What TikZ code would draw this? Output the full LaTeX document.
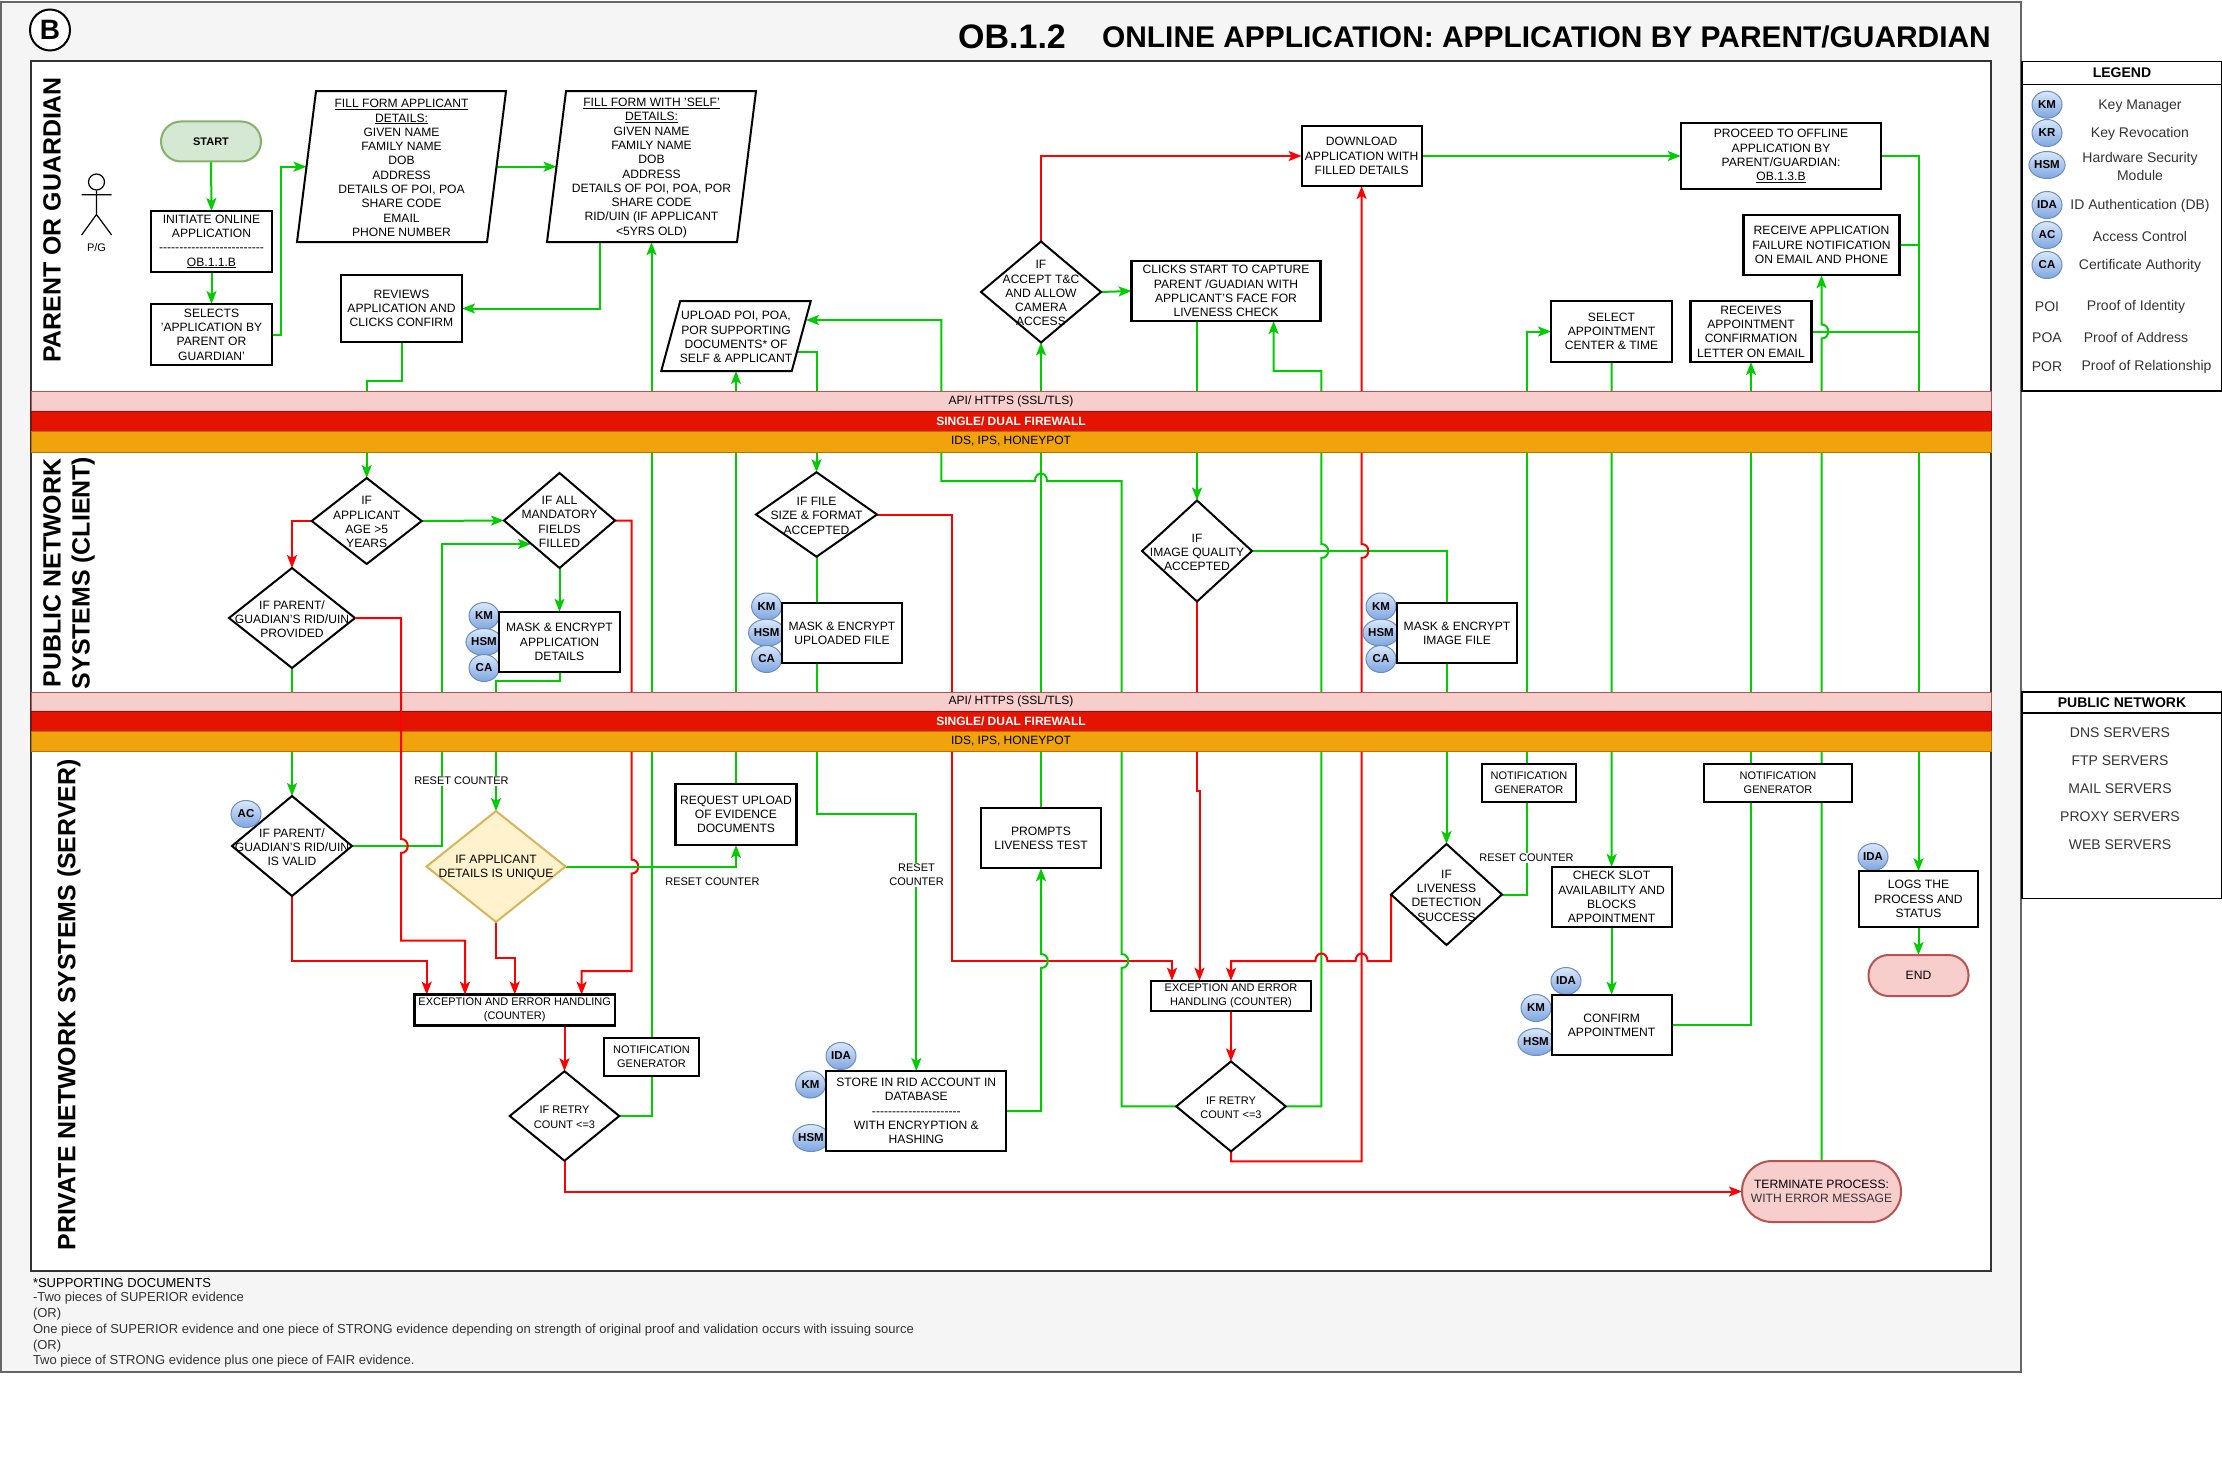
\documentclass[tikz,border=0pt]{standalone}
\usepackage{fontspec}
\setmainfont{Liberation Sans}
\usetikzlibrary{arrows.meta,shapes.geometric}
\pgfdeclarelayer{panel}\pgfdeclarelayer{conn}\pgfdeclarelayer{over}
\pgfsetlayers{panel,conn,main,over}
\definecolor{gcol}{HTML}{00CC00}
\definecolor{rcol}{HTML}{FF0000}
\definecolor{pinkf}{HTML}{F8CECC}\definecolor{pinkd}{HTML}{B85450}
\definecolor{redf}{HTML}{E51400}\definecolor{redd}{HTML}{B20000}
\definecolor{orf}{HTML}{F0A30A}\definecolor{ord}{HTML}{BD7000}
\definecolor{grnf}{HTML}{D5E8D4}\definecolor{grnd}{HTML}{82B366}
\definecolor{yelf}{HTML}{FFF2CC}\definecolor{yeld}{HTML}{D6B656}
\definecolor{blut}{HTML}{DAE8FC}\definecolor{blub}{HTML}{7EA6E0}\definecolor{blud}{HTML}{6C8EBF}
\definecolor{panelf}{HTML}{F5F5F5}\definecolor{paneld}{HTML}{666666}
\definecolor{txtg}{HTML}{333333}
\newcommand\sz[1]{\fontsize{#1}{14.3}\selectfont}
\tikzset{
 tb/.style={font=\sz{12.1},align=center,inner sep=0pt,outer sep=0pt},
 ts/.style={font=\sz{11},align=center,inner sep=0pt,outer sep=0pt},
 tl/.style={font=\sz{14},align=center,inner sep=0pt,outer sep=0pt,text=txtg},
 wh/.style 2 args={minimum width=#1,minimum height=#2},
 boxn/.style={tb,draw=black,line width=2.2pt,fill=white},
 boxs/.style={ts,draw=black,line width=2.2pt,fill=white},
 dian/.style={diamond,draw=black,line width=2pt,fill=white,inner sep=0pt,outer sep=0pt},
 hid/.style={inner sep=0pt,outer sep=0pt},
 term/.style={tb,rounded corners=20pt,line width=2pt},
 svc/.style={ellipse,draw=blud,line width=1pt,top color=blut,bottom color=blub,inner sep=0pt,outer sep=0pt,minimum width=30,minimum height=27,font=\sz{11.5}\bfseries},
 band/.style={tb,minimum width=1960,line width=1pt,font=\sz{12}},
 lbl/.style={ts,fill=white,inner sep=1pt},
 gl/.style={draw=gcol,line width=2pt},
 rl/.style={draw=rcol,line width=2pt},
 ga/.style={gl,-{Stealth[length=13pt,width=10pt,inset=3pt]}},
 ra/.style={rl,-{Stealth[length=13pt,width=10pt,inset=3pt]}},
 head/.style={font=\fontsize{24.9}{29}\selectfont\bfseries,rotate=90,align=center,inner sep=0pt,outer sep=0pt},
 legb/.style={draw=black,line width=1.4pt,fill=white,inner sep=0pt,outer sep=0pt},
 legh/.style={legb,font=\fontsize{14}{16}\selectfont\bfseries},
 foot/.style={font=\sz{13},anchor=west,inner sep=0pt,outer sep=0pt,text=txtg},
}
\newcommand\mydia[7][dian]{\node[#1,minimum width=#5,minimum height=#6] (#2) at (#3,#4) {};
 \node[tb,yshift=-1.2pt] (#2t) at (#2.center) {#7};}
\newcommand\mydias[6]{\node[dian,minimum width=#5,minimum height=#6] (#1) at (#3,#4) {};
 \node[ts,yshift=-1.2pt] (#1t) at (#1.center) {#2};}
\newcommand\mypara[7]{\node[hid,minimum width=#4,minimum height=#5] (#1) at (#2,#3) {};
 \draw[draw=black,line width=2pt,fill=white] ([xshift=#6]#1.north west) -- ([xshift=#6]#1.north east) -- ([xshift=-#6]#1.south east) -- ([xshift=-#6]#1.south west) -- cycle;
 \node[tb,yshift=-1.2pt] (#1t) at (#1.center) {#7};}
\newcommand\vjd[2]{-- (#1,#2-7) .. controls (#1+9,#2-7) and (#1+9,#2+7) .. (#1,#2+7)}
\newcommand\vju[2]{-- (#1,#2+7) .. controls (#1+9,#2+7) and (#1+9,#2-7) .. (#1,#2-7)}
\newcommand\hjl[2]{-- (#1+6,#2) .. controls (#1+6,#2-10) and (#1-6,#2-10) .. (#1-6,#2)}
\newcommand\dd{-{}-{}-{}-{}-{}-{}-{}-{}-{}-{}-{}-{}-{}-{}-{}-{}-{}-{}-{}-{}-{}-{}-{}-{}-{}-}
\newcommand\ds{-{}-{}-{}-{}-{}-{}-{}-{}-{}-{}-{}-{}-{}-{}-{}-{}-{}-{}-{}-{}-{}-}
\begin{document}
\begin{tikzpicture}[x=1pt,y=-1pt]
\useasboundingbox (0,0) rectangle (2222,1469);
\begin{pgfonlayer}{panel}
\fill[white] (0,0) rectangle (2222,1469);
\draw[fill=panelf,draw=paneld,line width=2pt] (1,2) rectangle (2021,1372);
\draw[fill=white,draw=txtg,line width=2pt] (31,61) rectangle (1991,1271);
\end{pgfonlayer}

% title
\node[ellipse,draw=black,line width=2pt,fill=white,minimum width=40,minimum height=41,inner sep=0pt,font=\fontsize{28}{30}\selectfont\bfseries] (badge) at (50,30) {B};
\node[font=\fontsize{34}{36}\selectfont\bfseries,inner sep=0pt] (obn) at (1012,37) {OB.1.2};
\node[font=\fontsize{29.9}{34}\selectfont\bfseries,inner sep=0pt,anchor=east] (titl) at (1991,37) {ONLINE APPLICATION: APPLICATION BY PARENT/GUARDIAN};

% lanes
\node[head] (lane1) at (52,220) {PARENT OR GUARDIAN};
\node[head] (lane2) at (69,573) {PUBLIC NETWORK\\SYSTEMS (CLIENT)};
\node[head] (lane3) at (69,1005) {PRIVATE NETWORK SYSTEMS (SERVER)};

% bands
\node[band,draw=pinkd,fill=pinkf,minimum height=20] (api1) at (1011,401) {API/ HTTPS (SSL/TLS)};
\node[band,draw=redd,fill=redf,minimum height=20,text=white,font=\sz{12}\bfseries] (fw1) at (1011,421) {SINGLE/ DUAL FIREWALL};
\node[band,draw=ord,fill=orf,minimum height=21] (ids1) at (1011,441.5) {IDS, IPS, HONEYPOT};
\node[band,draw=pinkd,fill=pinkf,minimum height=19] (api2) at (1011,701.5) {API/ HTTPS (SSL/TLS)};
\node[band,draw=redd,fill=redf,minimum height=20,text=white,font=\sz{12}\bfseries] (fw2) at (1011,721) {SINGLE/ DUAL FIREWALL};
\node[band,draw=ord,fill=orf,minimum height=20] (ids2) at (1011,741) {IDS, IPS, HONEYPOT};

% actor
\node[circle,draw=black,line width=1.2pt,fill=white,minimum size=16,inner sep=0pt] (acth) at (96.5,182) {};
\coordinate (actn) at (96.5,214.5);
\coordinate (actl) at (81.6,235);\coordinate (actr) at (111.6,235);
\coordinate (arml) at (81.6,194.7);\coordinate (armr) at (111.6,194.7);
\draw[line width=1.2pt] (acth.south) -- (actn) (arml) -- (armr) (actl) -- (actn) -- (actr);
\node[ts] (actlab) at (96.5,248) {P/G};

% service badges
\node[svc] (km1) at (484,616) {KM};\node[svc] (hsm1) at (484,642) {HSM};\node[svc] (ca1) at (484,668) {CA};
\node[svc] (km2) at (766.6,606.5) {KM};\node[svc] (hsm2) at (766.6,632.7) {HSM};\node[svc] (ca2) at (766.6,659) {CA};
\node[svc] (km3) at (1381,606.5) {KM};\node[svc] (hsm3) at (1381,632.7) {HSM};\node[svc] (ca3) at (1381,659) {CA};
\node[svc] (ida1) at (841,1056) {IDA};\node[svc] (km4) at (810.6,1084.5) {KM};\node[svc] (hsm4) at (811,1138) {HSM};
\node[svc] (ida2) at (1873,857) {IDA};
\node[svc] (ida3) at (1566,981) {IDA};\node[svc] (km5) at (1536,1008) {KM};\node[svc] (hsm5) at (1536,1042) {HSM};

% boxes: parent lane
\node[term,draw=grnd,fill=grnf,wh={100}{40},font=\sz{11}\bfseries] (start) at (211,141.5) {START};
\node[boxn,wh={121}{61}] (init) at (211.5,241.5) {INITIATE ONLINE\\APPLICATION\\[-0.5pt]\dd\\[0.5pt]\underline{OB.1.1.B}};
\node[boxn,wh={121}{61}] (selects) at (211.5,334.5) {SELECTS\\'APPLICATION BY\\PARENT OR\\GUARDIAN'};
\mypara{form1}{401.5}{166.7}{190}{151}{9.5}{\underline{FILL FORM APPLICANT}\\\underline{DETAILS:}\\GIVEN NAME\\FAMILY NAME\\DOB\\ADDRESS\\DETAILS OF POI, POA\\SHARE CODE\\EMAIL\\PHONE NUMBER}
\mypara{form2}{651.5}{166.7}{190}{151}{9.5}{\underline{FILL FORM WITH 'SELF'}\\\underline{DETAILS:}\\GIVEN NAME\\FAMILY NAME\\DOB\\ADDRESS\\DETAILS OF POI, POA, POR\\SHARE CODE\\RID/UIN (IF APPLICANT\\<5YRS OLD)}
\node[boxn,wh={121}{67}] (reviews) at (401.5,308.5) {REVIEWS\\APPLICATION AND\\CLICKS CONFIRM};
\mypara{upload}{736}{336}{130.5}{70}{9.5}{UPLOAD POI, POA,\\POR SUPPORTING\\DOCUMENTS* OF\\SELF \& APPLICANT}
\mydia{D5}{1041}{292}{120}{101}{IF\\ACCEPT T\&C\\AND ALLOW\\CAMERA\\ACCESS}
\node[boxn,wh={189}{60}] (clicks) at (1226,291) {CLICKS START TO CAPTURE\\PARENT /GUADIAN WITH\\APPLICANT'S FACE FOR\\LIVENESS CHECK};
\node[boxn,wh={120}{60}] (DL) at (1361.6,156) {DOWNLOAD\\APPLICATION WITH\\FILLED DETAILS};
\node[boxn,wh={200.5}{66}] (proceed) at (1781,156) {PROCEED TO OFFLINE\\APPLICATION BY\\PARENT/GUARDIAN:\\\underline{OB.1.3.B}};
\node[boxn,wh={156}{60.5}] (failnote) at (1821.5,245) {RECEIVE APPLICATION\\FAILURE NOTIFICATION\\ON EMAIL AND PHONE};
\node[boxn,wh={121}{61}] (select) at (1611.5,331.5) {SELECT\\APPOINTMENT\\CENTER \& TIME};
\node[boxn,wh={121}{61}] (receives) at (1751,331.5) {RECEIVES\\APPOINTMENT\\CONFIRMATION\\LETTER ON EMAIL};

% public lane
\mydia{D1}{366.7}{521}{110}{86}{IF\\APPLICANT\\AGE >5\\YEARS}
\mydia{D2}{559.5}{520.5}{111}{95}{IF ALL\\MANDATORY\\FIELDS\\FILLED}
\mydia{D3}{292}{618}{126}{100}{IF PARENT/\\GUADIAN'S RID/UIN\\PROVIDED}
\mydia{D4}{816.5}{514.5}{121}{84.5}{IF FILE\\SIZE \& FORMAT\\ACCEPTED}
\mydia{D6}{1197}{551}{110}{101}{IF\\IMAGE QUALITY\\ACCEPTED}
\node[boxn,wh={121}{60.5}] (mask1) at (559.5,642) {MASK \& ENCRYPT\\APPLICATION\\DETAILS};
\node[boxn,wh={120}{60}] (mask2) at (842,633) {MASK \& ENCRYPT\\UPLOADED FILE};
\node[boxn,wh={120}{60}] (mask3) at (1457,633) {MASK \& ENCRYPT\\IMAGE FILE};

% private lane
\mydia{D7}{292}{846}{120}{100}{IF PARENT/\\GUADIAN'S RID/UIN\\IS VALID}
\node[svc] (ac1) at (246,814) {AC};
\mydia[dian,draw=yeld,fill=yelf]{D8}{496}{866.5}{139}{111}{IF APPLICANT\\DETAILS IS UNIQUE}
\node[boxn,wh={121}{61}] (request) at (736,814.5) {REQUEST UPLOAD\\OF EVIDENCE\\DOCUMENTS};
\node[boxs,wh={200.5}{31}] (exc1) at (514.7,1010) {EXCEPTION AND ERROR HANDLING\\(COUNTER)};
\node[boxs,wh={94.5}{37.5}] (notif1) at (651.5,1057) {NOTIFICATION\\GENERATOR};
\mydias{D9}{IF RETRY\\COUNT <=3}{564.5}{1116}{109.5}{89.5}
\node[boxn,wh={180}{80}] (store) at (916.3,1111) {STORE IN RID ACCOUNT IN\\DATABASE\\\ds\\WITH ENCRYPTION \&\\HASHING};
\node[boxn,wh={120}{60.5}] (prompts) at (1041,838) {PROMPTS\\LIVENESS TEST};
\node[boxs,wh={94.5}{38}] (notif2) at (1529,783) {NOTIFICATION\\GENERATOR};
\node[boxs,wh={148}{38}] (notif3) at (1778,783) {NOTIFICATION\\GENERATOR};
\mydia{D10}{1446.5}{894.5}{111}{101}{IF\\LIVENESS\\DETECTION\\SUCCESS}
\node[boxn,wh={120}{60}] (check) at (1611.6,897) {CHECK SLOT\\AVAILABILITY AND\\BLOCKS\\APPOINTMENT};
\node[boxn,wh={119}{55.5}] (logs) at (1918.5,899) {LOGS THE\\PROCESS AND\\STATUS};
\node[term,draw=pinkd,fill=pinkf,wh={100}{41}] (endn) at (1918.5,975.5) {END};
\node[boxs,wh={159.5}{30.5}] (exc2) at (1231,996) {EXCEPTION AND ERROR\\HANDLING (COUNTER)};
\mydias{D11}{IF RETRY\\COUNT <=3}{1231}{1106.4}{109.5}{90}
\node[boxn,wh={120}{60.5}] (confirm) at (1611.6,1025) {CONFIRM\\APPOINTMENT};
\node[term,rounded corners=30pt,draw=pinkd,fill=pinkf,wh={159}{61}] (terminate) at (1821.5,1191.5) {TERMINATE PROCESS:\\\textcolor{txtg}{WITH ERROR MESSAGE}};

% labels on lines
\node[lbl] (rc1) at (461.5,781) {RESET COUNTER};
\node[lbl] (rc2) at (712.4,882) {RESET COUNTER};
\node[lbl] (rc3) at (916.5,875) {RESET\\COUNTER};
\node[lbl] (rc4) at (1526.5,858) {RESET COUNTER};

% free connector ends
\coordinate (f2out) at (599.5,242);
\coordinate (upout) at (797,352);
\coordinate (upin) at (806,320);

\begin{pgfonlayer}{conn}
\draw[ga] (start.south) -- (init.north);
\draw[ga] (init.south) -- (selects.north);
\draw[ga] (selects.east) -- (281,334.5) |- (form1.west);
\draw[ga] (form1.east) -- (form2.west);
\draw[ga] (f2out) |- (reviews.east);
\draw[ga] (reviews.south) |- (366.7,381) -- (D1.north);
\draw[ga] (D1.east) -- (D2.west);
\draw[ra] (D1.west) -| (D3.north);
\draw[ga] (D2.south) -- (mask1.north);
\draw[ga] (mask1.south) |- (496,681) -- (D8.north);
\draw[ga] (D7.east) -| (441.5,544) -- (531,544);
\draw[ga] (D3.south) -- (D7.north);
\draw[ra] (D7.south) |- (426.7,961) -- (426.7,994.7);
\draw[ra] (D8.south) |- (514.7,958) -- (exc1.north);
\draw[ra] (D2.east) -- (631.5,520.5) \vjd{631.5}{866.6} -- (631.5,971) -- (581.6,971) -- (581.6,994.7);
\draw[ga] (D8.east) -| (request.south);
\draw[ra] (D9.north|-exc1.south) -- (D9.north);
\draw[ga] (D9.east) -| (form2.south);
\draw[ra] (D9.south) |- (terminate.west);
\draw[ga] (request.north) -- (upload.south);
\draw[ga] (upout) -| (D4.north);
\draw[ga] (D4.south) |- (916.3,813.5) -- (store.north);
\draw[ra] (D4.east) -- (951.5,514.5) -- (951.5,961) -- (1172,961) -- (1172,980.7);
\draw[ga] (store.east) -- (1041,1111) \vju{1041}{961} -- (prompts.south);
\draw[ga] (prompts.north) -- (D5.south);
\draw[ra] (D5.north) |- (DL.west);
\draw[ga] (D5.east) -- (clicks.west);
\draw[ga] (D11.west) -- (1121.5,1106.4) \vju{1121.5}{961} -- (1121.5,481) \hjl{1041}{481} -- (941.3,481) -- (941.3,320) -- (upin);
\draw[ga] (D11.east) -- (1321.4,1106.4) \vju{1321.4}{551} -- (1321.4,371) -- (1273.6,371) -- (1273.6,321);
\draw[ga] (D6.north|-clicks.south) -- (D6.north);
\draw[ra] (D6.south) -- (1197,791) -- (1199.5,791) -- (1199.5,980.7);
\draw[ga] (D6.east) -- (1446.5,551) -- (D10.north);
\draw[ga] (D10.east) -- (1526.5,894.5) -- (1526.5,331.5) -- (select.west);
\draw[ra] (D10.west) -- (1391,961) \hjl{1361.6}{961} \hjl{1321.4}{961} -- (1231,961) -- (exc2.north);
\draw[ra] (exc2.south) -- (D11.north);
\draw[ra] (D11.south) |- (1361.6,1161.4) \vju{1361.6}{551} -- (DL.south);
\draw[ga] (select.south) -- (check.north);
\draw[ga] (check.south) -- (confirm.north);
\draw[ga] (confirm.east) -| (receives.south);
\draw[gl] (receives.east) -- (1918.5,331.5);
\draw[gl] (failnote.east) -- (1918.5,245);
\draw[ga] (proceed.east) -| (logs.north);
\draw[ga] (DL.east) -- (proceed.west);
\draw[ga] (terminate.north) \vju{1821.5}{331.5} -- (failnote.south);
\draw[ga] (logs.south) -- (endn.north);
\end{pgfonlayer}
\begin{pgfonlayer}{over}
\draw[ra] (D3.east) -- (401,618) \vjd{401}{846} -- (401,940.7) -- (465,940.7) -- (465,994.7);
\end{pgfonlayer}

% legend
\node[legb,wh={200}{329.5}] (legend) at (2122,226.25) {};
\node[legh,wh={200}{23}] (leghead) at (2122,73) {LEGEND};
\node[svc] (lkm) at (2047,104.7) {KM};\node[tl] (lkmt) at (2140,106) {Key Manager};
\node[svc] (lkr) at (2047,133) {KR};\node[tl] (lkrt) at (2140,134) {Key Revocation};
\node[svc] (lhsm) at (2047,165) {HSM};\node[tl] (lhsmt) at (2140,166.5) {Hardware Security\\[3pt]Module};
\node[svc] (lida) at (2047,205) {IDA};\node[tl] (lidat) at (2140,206) {ID Authentication (DB)};
\node[svc] (lac) at (2047,235) {AC};\node[tl] (lact) at (2140,236) {Access Control};
\node[svc] (lca) at (2047,265) {CA};\node[tl] (lcat) at (2140,266) {Certificate Authority};
\node[tl] (lpoi) at (2047,307) {POI};\node[tl] (lpoit) at (2136,307) {Proof of Identity};
\node[tl] (lpoa) at (2047,337.5) {POA};\node[tl] (lpoat) at (2136,337.5) {Proof of Address};
\node[tl] (lpor) at (2047,367) {POR};\node[tl] (lport) at (2146.5,367) {Proof of Relationship};
\node[legb,wh={200}{206.5}] (pubnet) at (2122,795) {};
\node[legh,wh={200}{21}] (pubhead) at (2122,702.5) {PUBLIC NETWORK};
\node[tl] (pn1) at (2120,732.6) {DNS SERVERS};
\node[tl] (pn2) at (2120,760.5) {FTP SERVERS};
\node[tl] (pn3) at (2120,788.5) {MAIL SERVERS};
\node[tl] (pn4) at (2120,816.5) {PROXY SERVERS};
\node[tl] (pn5) at (2120,844.5) {WEB SERVERS};

% footnote
\node[foot,text=black] (fn1) at (33,1283) {*SUPPORTING DOCUMENTS};
\node[foot] (fn2) at (33,1298.4) {-Two pieces of SUPERIOR evidence};
\node[foot] (fn3) at (33,1314.5) {(OR)};
\node[foot] (fn4) at (33,1330.5) {One piece of SUPERIOR evidence and one piece of STRONG evidence depending on strength of original proof and validation occurs with issuing source};
\node[foot] (fn5) at (33,1345.7) {(OR)};
\node[foot] (fn6) at (33,1361) {Two piece of STRONG evidence plus one piece of FAIR evidence.};
\end{tikzpicture}
\end{document}
